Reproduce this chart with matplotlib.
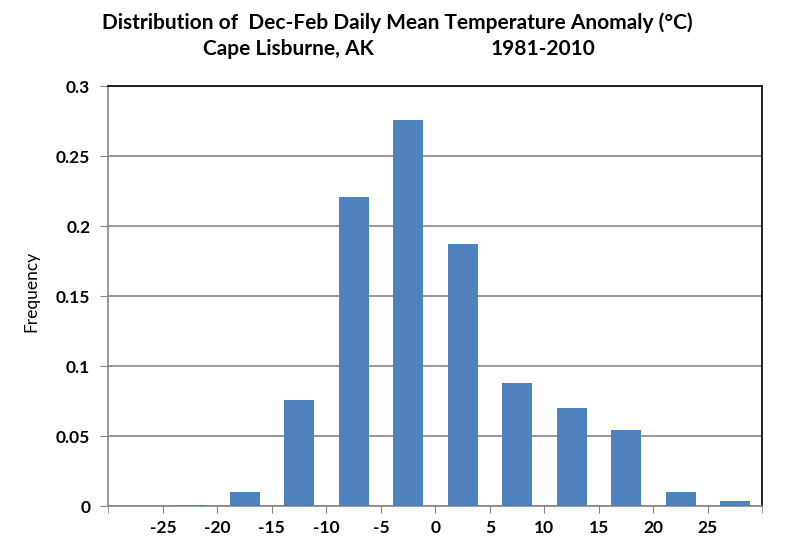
import matplotlib
matplotlib.use("Agg")
import matplotlib.pyplot as plt

# Bin centres (deg C) and frequencies
bin_centres = [-27.5, -22.5, -17.5, -12.5, -7.5, -2.5, 2.5, 7.5, 12.5, 17.5, 22.5, 27.5]
frequency = [0.0, 0.001, 0.010, 0.076, 0.221, 0.276, 0.187, 0.088, 0.070, 0.0545, 0.010, 0.0036]
x_ticks = [-25, -20, -15, -10, -5, 0, 5, 10, 15, 20, 25]
y_ticks = [0, 0.05, 0.1, 0.15, 0.2, 0.25, 0.3]
y_tick_labels = ["0", "0.05", "0.1", "0.15", "0.2", "0.25", "0.3"]

plt.rcParams["font.family"] = ["Lato", "DejaVu Sans"]
GRID = "#868686"

fig = plt.figure(figsize=(7.93, 5.48), dpi=100)
ax = fig.add_axes([0.1366, 0.0766, 0.8247, 0.7664])

ax.bar(bin_centres, frequency, width=2.75, color="#4f81bd", zorder=3)
ax.set_xlim(-30, 30)
ax.set_ylim(0, 0.3)
ax.set_xticks(x_ticks)
ax.set_xticklabels([str(t) for t in x_ticks])
ax.set_xticks([-30, 30], minor=True)
ax.set_yticks(y_ticks)
ax.set_yticklabels(y_tick_labels)
ax.yaxis.grid(True, color=GRID, lw=1.2, zorder=0)

for lab in ax.get_xticklabels() + ax.get_yticklabels():
    lab.set_fontweight("bold")
    lab.set_fontsize(12.5)
ax.tick_params(axis="x", which="both", direction="out", length=5, color=GRID, pad=5)
ax.tick_params(axis="y", direction="out", length=6, color=GRID, pad=7)

ax.spines["left"].set_color(GRID)
ax.spines["bottom"].set_color(GRID)
ax.spines["top"].set_color("black")
ax.spines["right"].set_color("black")
for s in ax.spines.values():
    s.set_linewidth(1.2)

ax.set_ylabel("Frequency", fontsize=12.5, labelpad=17)
ax.yaxis.set_label_coords(-0.105, 0.51)

fig.text(0.501, 0.958, "Distribution of  Dec-Feb Daily Mean Temperature Anomaly (\u00b0C)",
         ha="center", va="center", fontsize=15, fontweight="bold")
fig.text(0.364, 0.911, "Cape Lisburne, AK", ha="center", va="center",
         fontsize=15, fontweight="bold")
fig.text(0.685, 0.911, "1981-2010", ha="center", va="center",
         fontsize=15, fontweight="bold")

fig.savefig("out.png", dpi=100)
